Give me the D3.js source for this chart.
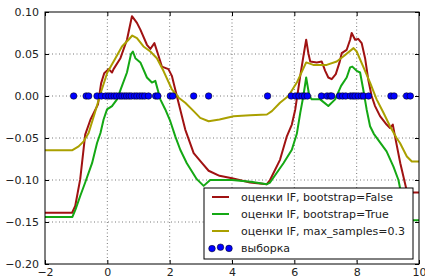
<!DOCTYPE html>
<html>
<head>
<meta charset="utf-8">
<script src="https://cdn.jsdelivr.net/npm/d3@7"></script>
<style>
  body { margin: 0; background: #fff; }
  text { font-family: "DejaVu Sans", sans-serif; font-size: 11px; fill: #222; }
  .grid line { stroke: #555; stroke-dasharray: 1,2.5; stroke-width: 0.8; }
  .axis path, .axis line { stroke: #000; }
  .axis .domain { display: none; }
  .axis text { font-size: 11px; }
</style>
</head>
<body>
<div id="chart"></div>
<script>
// tick labels
var xTicks = [-2, 0, 2, 4, 6, 8, 10];
var yTicks = [0.10, 0.05, 0.00, -0.05, -0.10, -0.15, -0.20];

// legend labels
var labels = ["оценки IF, bootstrap=False", "оценки IF, bootstrap=True",
              "оценки IF, max_samples=0.3", "выборка"];

// series values, [x, score]
var ifFalse = [[-2,-0.139],[-1.13,-0.139],[-1.03,-0.131],[-0.87,-0.099],[-0.71,-0.046],[-0.54,-0.028],
  [-0.3,-0.01],[-0.2,0.015],[-0.1,0.027],[0.04,0.032],[0.15,0.028],[0.2,0.032],[0.42,0.045],[0.63,0.067],
  [0.79,0.095],[0.95,0.087],[1.06,0.079],[1.27,0.061],[1.38,0.056],[1.51,0.063],[1.65,0.047],[1.75,0.035],
  [1.96,0.032],[2.07,0.024],[2.23,0],[2.5,-0.04],[2.77,-0.068],[3.04,-0.08],[3.25,-0.089],[3.6,-0.095],
  [4.0,-0.098],[4.58,-0.103],[5.12,-0.105],[5.22,-0.1],[5.54,-0.076],[5.76,-0.048],[5.92,-0.034],
  [6.03,-0.016],[6.19,0.024],[6.29,0.047],[6.38,0.067],[6.45,0.051],[6.51,0.041],[6.72,0.04],[6.88,0.041],
  [6.99,0.03],[7.09,0.022],[7.2,0.02],[7.33,0.026],[7.45,0.04],[7.52,0.051],[7.68,0.055],[7.79,0.067],
  [7.84,0.075],[7.95,0.067],[8.05,0.068],[8.16,0.063],[8.27,0.045],[8.37,0.02],[8.48,0],[8.59,-0.012],
  [8.75,-0.024],[8.96,-0.034],[9.07,-0.038],[9.16,-0.034],[9.23,-0.048],[9.4,-0.08],[9.62,-0.115],[10,-0.115]];

var ifTrue = [[-2,-0.144],[-1.12,-0.144],[-1.02,-0.135],[-0.87,-0.119],[-0.71,-0.103],[-0.49,-0.08],
  [-0.33,-0.056],[-0.22,-0.044],[-0.12,-0.028],[-0.01,-0.016],[0.15,-0.012],[0.31,-0.004],[0.47,0.012],
  [0.63,0.028],[0.76,0.05],[0.82,0.053],[0.9,0.045],[1.06,0.04],[1.27,0.022],[1.43,0.016],[1.54,0.018],
  [1.7,-0.004],[1.86,-0.016],[2.02,-0.03],[2.18,-0.048],[2.34,-0.064],[2.55,-0.08],[2.87,-0.099],
  [3.09,-0.107],[3.3,-0.1],[4.0,-0.1],[4.6,-0.102],[5.12,-0.105],[5.22,-0.103],[5.65,-0.08],[5.92,-0.064],
  [6.08,-0.045],[6.19,-0.02],[6.29,0],[6.38,0.022],[6.48,0],[6.56,-0.004],[6.83,-0.004],[7.09,-0.012],
  [7.31,-0.004],[7.5,0.012],[7.68,0.022],[7.79,0.034],[7.86,0.035],[8.0,0.03],[8.11,0.028],[8.21,0.008],
  [8.32,-0.016],[8.43,-0.036],[8.55,-0.045],[8.96,-0.066],[9.18,-0.084],[9.34,-0.1],[9.6,-0.148],[10,-0.148]];

var ifSub = [[-2,-0.0645],[-1.12,-0.0645],[-0.92,-0.06],[-0.76,-0.054],[-0.6,-0.044],[-0.4,-0.02],
  [-0.2,0.005],[0,0.028],[0.26,0.045],[0.47,0.059],[0.68,0.067],[0.8,0.072],[0.95,0.069],[1.16,0.059],
  [1.38,0.053],[1.59,0.045],[1.8,0.03],[2.07,0.008],[2.29,-0.002],[2.5,-0.008],[2.77,-0.018],[2.98,-0.026],
  [3.25,-0.03],[3.6,-0.028],[4.05,-0.024],[4.58,-0.023],[5.12,-0.022],[5.28,-0.018],[5.54,-0.008],
  [5.81,0],[6.08,0.016],[6.38,0.04],[6.61,0.037],[7.04,0.037],[7.36,0.041],[7.57,0.047],[7.9,0.057],
  [8.0,0.053],[8.21,0.035],[8.43,0.016],[8.64,-0.004],[8.86,-0.02],[9.07,-0.036],[9.28,-0.05],
  [9.39,-0.056],[9.61,-0.072],[9.77,-0.078],[10,-0.078]];

// sample points (all at score 0)
var sample = [-1.08,-0.68,-0.6,-0.33,-0.19,-0.05,0.05,0.13,0.22,0.3,0.4,0.47,0.55,0.62,0.7,0.77,
  0.87,0.95,1.04,1.12,1.2,1.32,1.55,1.62,2.02,2.1,2.77,3.25,
  5.14,5.9,6.05,6.15,6.25,6.33,6.42,6.87,7.05,7.15,7.2,7.45,7.55,7.65,7.8,7.88,7.95,8.05,8.15,
  8.22,8.38,9.1,9.2,9.6,9.72];

var colors = ["#a01212", "#14a814", "#aaa000"];

var margin = {top: 12, right: 6, bottom: 15, left: 45},
    outerWidth = 425,
    outerHeight = 279,
    width = outerWidth - margin.left - margin.right,
    height = outerHeight - margin.top - margin.bottom;

var x = d3.scaleLinear().domain([-2, 10]).range([0, width]);
var y = d3.scaleLinear().domain([-0.2, 0.1]).range([height, 0]);

var svg = d3.select("#chart").append("svg")
    .attr("width", outerWidth)
    .attr("height", outerHeight)
  .append("g")
    .attr("transform", "translate(" + margin.left + "," + margin.top + ")");

svg.append("defs").append("clipPath")
    .attr("id", "clip")
  .append("rect")
    .attr("width", width)
    .attr("height", height);

// grid
svg.append("g")
    .attr("class", "grid")
    .selectAll("line.v").data(xTicks.slice(1, -1)).enter().append("line")
    .attr("x1", d => x(d)).attr("x2", d => x(d))
    .attr("y1", 0).attr("y2", height);

svg.select(".grid")
    .selectAll("line.h").data(yTicks.slice(1, -1)).enter().append("line")
    .attr("x1", 0).attr("x2", width)
    .attr("y1", d => y(d)).attr("y2", d => y(d));

// axes, ticks pointing inward on all sides
var fmtY = d => d3.format(".2f")(d).replace("-", "\u2212");
var fmtX = d => String(d).replace("-", "\u2212");

svg.append("g")
    .attr("class", "axis")
    .call(d3.axisLeft(y).tickValues(yTicks).tickSize(-4).tickPadding(6).tickFormat(fmtY));

svg.append("g")
    .attr("class", "axis")
    .attr("transform", "translate(" + width + ",0)")
    .call(d3.axisRight(y).tickValues(yTicks).tickSize(-4).tickFormat(""));

svg.append("g")
    .attr("class", "axis")
    .attr("transform", "translate(0," + height + ")")
    .call(d3.axisBottom(x).tickValues(xTicks).tickSize(-4).tickPadding(4).tickFormat(fmtX));

svg.append("g")
    .attr("class", "axis")
    .call(d3.axisTop(x).tickValues(xTicks).tickSize(-4).tickFormat(""));

// lines
var line = d3.line().x(d => x(d[0])).y(d => y(d[1]));

var plot = svg.append("g").attr("clip-path", "url(#clip)");

[ifFalse, ifTrue, ifSub].forEach(function(series, i){
  plot.append("path")
      .datum(series)
      .attr("fill", "none")
      .attr("stroke", colors[i])
      .attr("stroke-width", 2)
      .attr("stroke-linejoin", "round")
      .attr("d", line);
});

plot.selectAll("circle.sample")
    .data(sample)
  .enter().append("circle")
    .attr("class", "sample")
    .attr("cx", d => x(d))
    .attr("cy", y(0))
    .attr("r", 3.3)
    .attr("fill", "#0000ff")
    .attr("stroke", "#000")
    .attr("stroke-width", 0.5);

// frame
svg.append("rect")
    .attr("width", width)
    .attr("height", height)
    .attr("fill", "none")
    .attr("stroke", "#000")
    .attr("stroke-width", 1);

// legend
var legend = svg.append("g")
    .attr("transform", "translate(" + (204 - margin.left) + "," + (188 - margin.top) + ")");

legend.append("rect")
    .attr("width", 209)
    .attr("height", 71)
    .attr("fill", "#fff")
    .attr("stroke", "#000")
    .attr("stroke-width", 1);

var rowY = [9, 26, 43, 60];

labels.forEach(function(label, i){
  if (i < 3) {
    legend.append("line")
        .attr("x1", 8).attr("x2", 25)
        .attr("y1", rowY[i]).attr("y2", rowY[i])
        .attr("stroke", colors[i])
        .attr("stroke-width", 2);
  } else {
    [[8, 0.6], [16.5, -0.8], [25, 0.4]].forEach(function(p){
      legend.append("circle")
          .attr("cx", p[0]).attr("cy", rowY[i] + p[1])
          .attr("r", 3.3)
          .attr("fill", "#0000ff")
          .attr("stroke", "#000")
          .attr("stroke-width", 0.5);
    });
  }
  legend.append("text")
      .attr("x", 37)
      .attr("y", rowY[i])
      .attr("dy", "0.35em")
      .text(label);
});
</script>
</body>
</html>
